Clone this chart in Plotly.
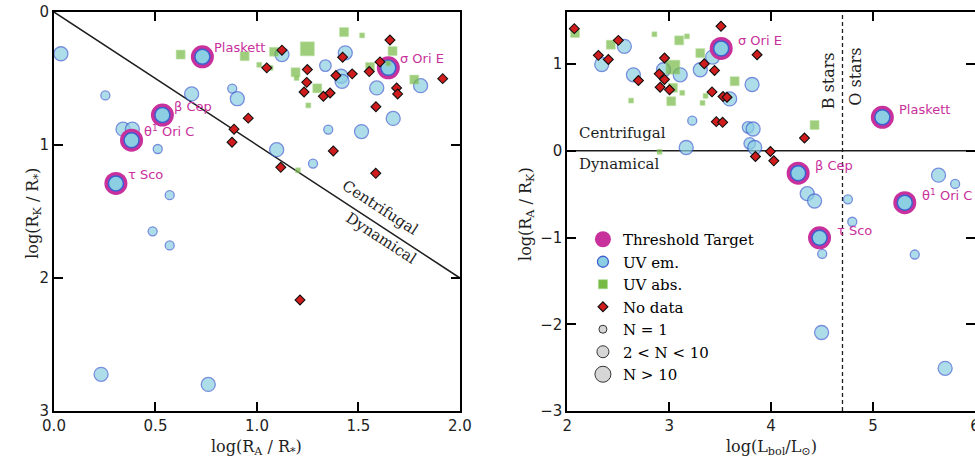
import plotly.graph_objects as go

# ---------------- data ----------------
# Left panel: x = log(R_A/R_*), y = log(R_K/R_*)
L_em_x = [0.034, 0.253, 0.678, 0.878, 0.903, 0.340, 0.386, 0.511, 0.570, 1.097, 1.276, 1.351, 1.515,
          1.671, 1.590, 1.806, 1.337, 1.435, 1.414, 1.419, 1.123, 0.486, 0.570, 0.232, 0.760]
L_em_y = [0.314, 0.627, 0.616, 0.576, 0.652, 0.881, 0.881, 1.030, 1.377, 1.035, 1.140, 0.884, 0.899,
          0.800, 0.571, 0.554, 0.403, 0.307, 0.483, 0.521, 0.320, 1.649, 1.755, 2.724, 2.800]
L_em_n = [3, 1, 3, 1, 3, 3, 3, 1, 1, 3, 1, 1, 3, 3, 3, 3, 2, 3, 3, 3, 3, 1, 1, 3, 3]

L_abs_x = [0.624, 0.939, 1.011, 1.067, 1.084, 1.248, 1.429, 1.518, 1.668, 1.557, 1.647, 1.775, 1.190,
           1.195, 1.297, 1.253, 1.202]
L_abs_y = [0.320, 0.332, 0.397, 0.420, 0.299, 0.277, 0.151, 0.176, 0.294, 0.413, 0.387, 0.508, 0.453,
           0.496, 0.574, 0.702, 1.190]
L_abs_n = [2, 2, 1, 1, 2, 3, 2, 1, 2, 2, 1, 2, 2, 1, 2, 1, 1]

L_nd_x = [1.123, 1.048, 1.248, 1.245, 1.232, 1.327, 1.360, 1.389, 1.422, 1.469, 1.553, 1.606, 1.655,
          1.688, 1.693, 1.586, 1.915, 0.957, 0.887, 0.877, 1.117, 1.376, 1.585, 1.212]
L_nd_y = [0.287, 0.420, 0.433, 0.529, 0.601, 0.634, 0.609, 0.478, 0.340, 0.465, 0.448, 0.375, 0.211,
          0.571, 0.616, 0.712, 0.501, 0.798, 0.881, 0.979, 1.168, 1.045, 1.213, 2.165]

# Threshold targets (both panels)
thr_names = ["Plaskett", "β Cep", "θ<sup>1</sup> Ori C", "τ Sco", "σ Ori E"]
thr_L_x = [0.731, 0.534, 0.382, 0.305, 1.647]
thr_L_y = [0.337, 0.775, 0.964, 1.289, 0.420]
thr_R_x = [5.091, 4.265, 5.311, 4.475, 3.510]
thr_R_y = [0.386, -0.258, -0.598, -1.003, 1.180]

# Right panel: x = log(Lbol/Lsun), y = log(R_A/R_K)
R_em_x = [2.560, 2.338, 2.649, 2.944, 3.108, 3.305, 3.426, 3.226, 3.167, 3.593, 3.813, 3.774, 3.823,
          3.790, 3.839, 4.354, 4.426, 4.753, 4.796, 5.642, 5.805, 4.501, 5.409, 4.495, 5.707]
R_em_y = [1.204, 0.995, 0.876, 0.934, 0.876, 0.934, 1.080, 0.347, 0.038, 0.598, 0.764, 0.270, 0.251,
          0.085, 0.038, -0.494, -0.579, -0.560, -0.818, -0.281, -0.382, -1.188, -1.196, -2.095, -2.508]
R_em_n = [3, 3, 3, 3, 3, 3, 3, 1, 3, 3, 3, 2, 3, 2, 3, 3, 3, 1, 1, 3, 1, 1, 1, 3, 3]

R_abs_x = [2.076, 2.427, 2.855, 3.098, 3.174, 3.305, 3.036, 3.036, 3.020, 3.128, 2.626, 3.357, 3.327,
           2.905, 3.642, 4.426]
R_abs_y = [1.358, 1.223, 1.343, 1.273, 1.319, 1.126, 0.964, 0.726, 0.571, 0.668, 0.579, 0.633, 0.552,
           -0.012, 0.802, 0.297]
R_abs_n = [2, 2, 1, 2, 1, 2, 3, 2, 2, 1, 1, 1, 1, 1, 2, 2]

R_nd_x = [2.069, 2.501, 2.305, 2.403, 2.954, 2.902, 2.954, 2.698, 2.911, 3.003, 3.344, 3.445, 3.420,
          3.508, 3.862, 3.528, 3.567, 3.462, 3.524, 4.327, 3.993, 4.026, 3.846]
R_nd_y = [1.408, 1.273, 1.100, 1.053, 1.069, 0.887, 0.822, 0.810, 0.733, 0.703, 1.003, 0.926, 0.679,
          1.435, 1.107, 0.625, 0.617, 0.336, 0.328, 0.147, -0.008, -0.116, -0.066]

boundary_line = [0.0, 2.0]      # R_A = R_K in left panel
ra_eq_rk = 0.0                  # R_A = R_K in right panel
bo_boundary = 4.7               # B / O star luminosity divide

legend_labels = ["Threshold Target", "UV em.", "UV abs.", "No data", "N = 1", "2 &lt; N &lt; 10", "N &gt; 10"]

# ---------------- style ----------------
BLUE_FILL = "#8ccfe2"
BLUE_LINE = "#3d5fcf"
GREEN = "#76b944"
GREEN_LINE = "#a6d68a"
RED = "#d01c1c"
MAGENTA = "#c8309c"
GREY = "#d6d6d6"
INK = "#1e1e1e"
SERIF = "DejaVu Serif"
SANS = "DejaVu Sans"

circ_size = {1: 9, 2: 11.5, 3: 14}
sq_size = {1: 5, 2: 9, 3: 14}

fig = go.Figure()


def add_panel(em_x, em_y, em_n, thr_x, thr_y, abs_x, abs_y, abs_n, nd_x, nd_y, xa, ya):
    fig.add_trace(go.Scatter(x=em_x, y=em_y, mode="markers", xaxis=xa, yaxis=ya, showlegend=False,
                             marker=dict(symbol="circle", size=[circ_size[n] for n in em_n],
                                         color=BLUE_FILL, line=dict(color=BLUE_LINE, width=1.3))))
    fig.add_trace(go.Scatter(x=thr_x, y=thr_y, mode="markers", xaxis=xa, yaxis=ya, showlegend=False,
                             marker=dict(symbol="circle", size=23, color=MAGENTA, line=dict(width=0))))
    fig.add_trace(go.Scatter(x=thr_x, y=thr_y, mode="markers", xaxis=xa, yaxis=ya, showlegend=False,
                             marker=dict(symbol="circle", size=15, color=BLUE_FILL,
                                         line=dict(color=BLUE_LINE, width=1.5))))
    fig.add_trace(go.Scatter(x=abs_x, y=abs_y, mode="markers", xaxis=xa, yaxis=ya, showlegend=False,
                             marker=dict(symbol="square", size=[sq_size[n] for n in abs_n],
                                         color=GREEN, line=dict(color=GREEN_LINE, width=0.6))))
    fig.add_trace(go.Scatter(x=nd_x, y=nd_y, mode="markers", xaxis=xa, yaxis=ya, showlegend=False,
                             marker=dict(symbol="diamond", size=7.6, color=RED,
                                         line=dict(color="#111111", width=1.1))))


add_panel(L_em_x, L_em_y, L_em_n, thr_L_x, thr_L_y, L_abs_x, L_abs_y, L_abs_n, L_nd_x, L_nd_y, "x", "y")
add_panel(R_em_x, R_em_y, R_em_n, thr_R_x, thr_R_y, R_abs_x, R_abs_y, R_abs_n, R_nd_x, R_nd_y, "x2", "y2")

# legend entries
leg_markers = [
    dict(symbol="circle", size=16, color=MAGENTA, line=dict(width=0)),
    dict(symbol="circle", size=11, color=BLUE_FILL, line=dict(color=BLUE_LINE, width=1.3)),
    dict(symbol="square", size=9, color=GREEN, line=dict(color=GREEN_LINE, width=0.6)),
    dict(symbol="diamond", size=7.6, color=RED, line=dict(color="#111111", width=1.1)),
    dict(symbol="circle", size=8, color=GREY, line=dict(color="#333333", width=1)),
    dict(symbol="circle", size=12, color=GREY, line=dict(color="#333333", width=1)),
    dict(symbol="circle", size=16, color=GREY, line=dict(color="#333333", width=1)),
]
for lab, mk in zip(legend_labels, leg_markers):
    fig.add_trace(go.Scatter(x=[None], y=[None], mode="markers", name=lab, xaxis="x2", yaxis="y2",
                             marker=mk, showlegend=True))

# ---------------- lines ----------------
fig.add_shape(type="line", xref="x", yref="y", x0=boundary_line[0], y0=boundary_line[0],
              x1=boundary_line[1], y1=boundary_line[1], line=dict(color=INK, width=1.5), layer="below")
fig.add_shape(type="line", xref="x2 domain", yref="y2", x0=0, x1=1, y0=ra_eq_rk, y1=ra_eq_rk,
              line=dict(color=INK, width=1.5), layer="below")
fig.add_shape(type="line", xref="x2", yref="y2 domain", x0=bo_boundary, x1=bo_boundary, y0=0, y1=1,
              line=dict(color=INK, width=1.3, dash="4px,3px"), layer="below")

# ---------------- annotations ----------------
ann = []
for nm, x, y in zip(thr_names, thr_L_x, thr_L_y):
    ann.append(dict(x=x, y=y, xref="x", yref="y", text=nm, showarrow=False, xanchor="left",
                    yanchor="middle", xshift=10, yshift=9, font=dict(family=SANS, size=13, color=MAGENTA)))
for nm, x, y in zip(thr_names, thr_R_x, thr_R_y):
    ann.append(dict(x=x, y=y, xref="x2", yref="y2", text=nm, showarrow=False, xanchor="left",
                    yanchor="middle", xshift=15, yshift=7.5, font=dict(family=SANS, size=13, color=MAGENTA)))

ann += [
    dict(x=1.61, y=1.47, xref="x", yref="y", text="Centrifugal", textangle=33, showarrow=False,
         font=dict(family=SERIF, size=15, color=INK)),
    dict(x=1.61, y=1.70, xref="x", yref="y", text="Dynamical", textangle=33, showarrow=False,
         font=dict(family=SERIF, size=15, color=INK)),
    dict(x=2.1, y=0.2, xref="x2", yref="y2", text="Centrifugal", showarrow=False, xanchor="left",
         font=dict(family=SERIF, size=15, color=INK)),
    dict(x=2.1, y=-0.15, xref="x2", yref="y2", text="Dynamical", showarrow=False, xanchor="left",
         font=dict(family=SERIF, size=15, color=INK)),
    dict(x=4.566, y=0.81, xref="x2", yref="y2", text="B stars", textangle=-90, showarrow=False,
         font=dict(family=SERIF, size=16, color=INK)),
    dict(x=4.82, y=0.85, xref="x2", yref="y2", text="O stars", textangle=-90, showarrow=False,
         font=dict(family=SERIF, size=16, color=INK)),
    # axis titles
    dict(x=0.5, y=-0.092, xref="x domain", yref="paper", yanchor="middle",
         text="log(R<sub>A</sub> / R<sub>*</sub>)", showarrow=False,
         font=dict(family=SERIF, size=16, color=INK)),
    dict(x=0.5, y=-0.092, xref="x2 domain", yref="paper", yanchor="middle",
         text="log(L<sub>bol</sub>/L<sub>⊙</sub>)", showarrow=False,
         font=dict(family=SERIF, size=16, color=INK)),
    dict(x=-0.036, y=0.495, xref="paper", yref="paper", textangle=-90,
         text="log(R<sub>K</sub> / R<sub>*</sub>)", showarrow=False,
         font=dict(family=SERIF, size=16, color=INK)),
    dict(x=0.513, y=0.495, xref="paper", yref="paper", textangle=-90,
         text="log(R<sub>A</sub> / R<sub>K</sub>)", showarrow=False,
         font=dict(family=SERIF, size=16, color=INK)),
]

axis_common = dict(showline=True, linewidth=2, linecolor="black", ticks="inside", mirror="ticks",
                   tickcolor="black", ticklen=9, tickwidth=2, showgrid=False, zeroline=False,
                   automargin=False, tickfont=dict(family=SANS, size=15, color=INK))

fig.update_layout(
    width=975, height=461,
    margin=dict(l=54, r=0, t=12, b=50),
    plot_bgcolor="white", paper_bgcolor="white",
    xaxis=dict(domain=[0, 0.4408], range=[0, 2], dtick=0.5, tickformat=".1f", anchor="y",
               **axis_common),
    yaxis=dict(domain=[0, 1], range=[3, 0], dtick=1, anchor="x", **axis_common),
    xaxis2=dict(domain=[0.5573, 1], range=[2, 6], dtick=1, anchor="y2", ticklabeloverflow="allow",
                **axis_common),
    yaxis2=dict(domain=[0, 1], range=[-3, 1.6], dtick=1, anchor="x2", **axis_common),
    showlegend=True,
    legend=dict(x=0.5743, y=0.4712, xref="paper", yref="paper", xanchor="left", yanchor="top",
                bgcolor="rgba(0,0,0,0)", borderwidth=0, itemsizing="trace", tracegroupgap=0,
                font=dict(family=SERIF, size=15, color="#000000")),
    annotations=ann,
)

fig.write_html("out.html")
